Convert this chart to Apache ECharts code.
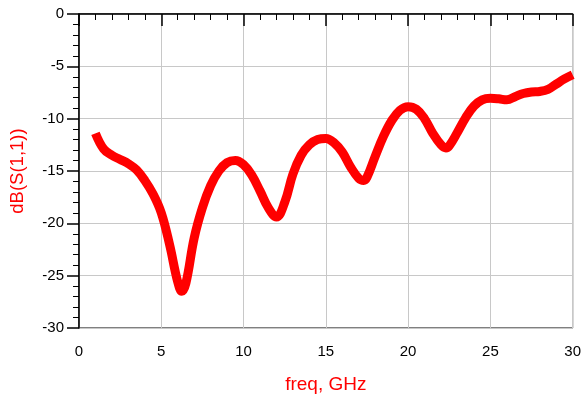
<!DOCTYPE html>
<html><head><meta charset="utf-8">
<script src="https://cdn.jsdelivr.net/npm/echarts@6/dist/echarts.min.js"></script>
<style>html,body{margin:0;padding:0;background:#fff}#c{width:584px;height:404px}</style>
</head><body><div id="c"></div>
<script>
const freq = [1.0,1.5,2.0,2.5,3.0,3.5,4.0,4.5,5.0,5.5,6.0,6.25,6.5,7.0,7.5,8.0,8.5,9.0,9.5,10.0,10.5,11.0,11.5,12.0,12.5,13.0,13.5,14.0,14.5,15.0,15.5,16.0,16.5,17.0,17.3,17.5,18.0,18.5,19.0,19.5,20.0,20.5,21.0,21.5,22.0,22.3,22.5,23.0,23.5,24.0,24.5,25.0,25.5,26.0,26.5,27.0,27.5,28.0,28.5,29.0,29.5,30.0];
const s11 = [-11.4,-12.9,-13.5,-13.9,-14.3,-14.9,-15.9,-17.2,-19.0,-22.0,-25.6,-26.5,-25.7,-21.4,-18.5,-16.4,-15.0,-14.2,-14.0,-14.4,-15.4,-16.9,-18.5,-19.4,-18.0,-15.3,-13.5,-12.5,-12.0,-11.9,-12.3,-13.2,-14.6,-15.7,-15.9,-15.6,-13.6,-11.7,-10.2,-9.2,-8.85,-9.1,-10.0,-11.4,-12.5,-12.8,-12.6,-11.3,-9.9,-8.8,-8.2,-8.05,-8.1,-8.2,-7.9,-7.6,-7.45,-7.4,-7.2,-6.7,-6.2,-5.8];
const xName = 'freq, GHz';
const yName = 'dB(S(1,1))';

const chart = echarts.init(document.getElementById('c'));
const font = 'Liberation Sans, Arial, sans-serif';
chart.setOption({
  animation: false,
  grid: {left: 78.5, right: 9.5, top: 14, bottom: 76, show: true, borderColor: '#000', borderWidth: 1},
  xAxis: {
    type: 'value', min: 0, max: 30, interval: 5,
    name: xName, nameLocation: 'middle', nameGap: 47,
    nameTextStyle: {color: '#ff0000', fontSize: 19, fontFamily: font},
    axisLine: {lineStyle: {color: '#000', width: 1.5}},
    axisTick: {show: true, inside: false, length: 12, lineStyle: {color: '#000', width: 1.5}},
    minorTick: {show: true, splitNumber: 5, length: 6, lineStyle: {color: '#000', width: 1}},
    axisLabel: {color: '#000', fontSize: 15, fontFamily: font, margin: 16},
    splitLine: {show: true, lineStyle: {color: '#c8c8c8', width: 1}}
  },
  yAxis: {
    type: 'value', min: -30, max: 0, interval: 5,
    name: yName, nameLocation: 'middle', nameGap: 52,
    nameTextStyle: {color: '#ff0000', fontSize: 18.5, fontFamily: font},
    axisLine: {show: true, lineStyle: {color: '#000', width: 1.5}},
    axisTick: {show: true, inside: false, length: 12, lineStyle: {color: '#000', width: 1.5}},
    minorTick: {show: true, splitNumber: 5, length: 6, lineStyle: {color: '#000', width: 1}},
    axisLabel: {color: '#000', fontSize: 15, fontFamily: font, margin: 15},
    splitLine: {show: true, lineStyle: {color: '#c8c8c8', width: 1}}
  },
  series: [{
    type: 'line', smooth: 0.4, showSymbol: false,
    data: freq.map((f, i) => [f, s11[i]]),
    lineStyle: {color: '#ff0000', width: 9}, itemStyle: {color: '#ff0000'}
  }]
});
</script></body></html>
